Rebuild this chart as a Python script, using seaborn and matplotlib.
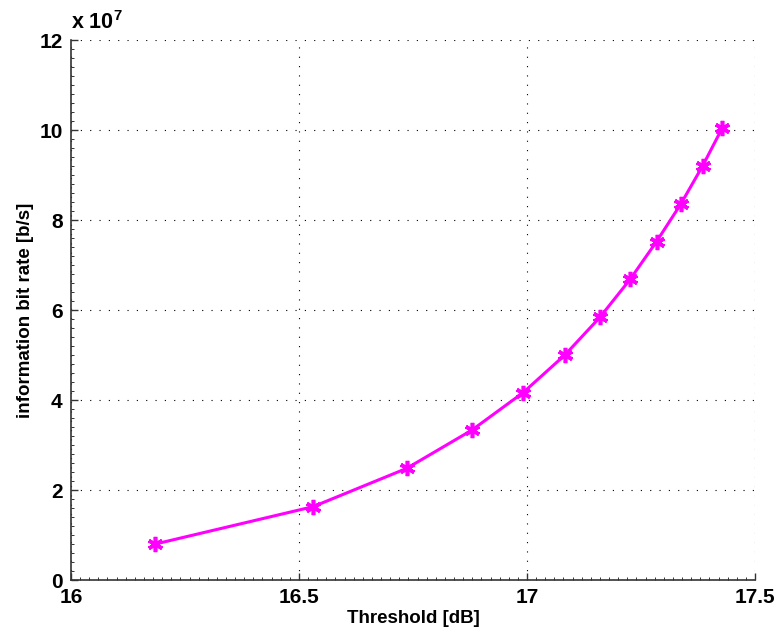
import matplotlib
matplotlib.use('Agg')
import matplotlib.pyplot as plt
from matplotlib.ticker import FuncFormatter, MultipleLocator
import seaborn as sns

# values
threshold_db = [16.185, 16.531, 16.736, 16.879, 16.991, 17.083,
                17.160, 17.226, 17.284, 17.337, 17.385, 17.428]
bit_rate = [0.80e7, 1.63e7, 2.48e7, 3.33e7, 4.16e7, 5.00e7,
            5.84e7, 6.68e7, 7.52e7, 8.35e7, 9.20e7, 10.04e7]

x_ticks = [16, 16.5, 17, 17.5]
y_ticks = [0, 2e7, 4e7, 6e7, 8e7, 10e7, 12e7]

sns.set_style('white')
plt.rcParams['font.family'] = ['Liberation Sans', 'DejaVu Sans']
plt.rcParams['mathtext.fontset'] = 'custom'
plt.rcParams['mathtext.bf'] = 'Liberation Sans:bold'
plt.rcParams['mathtext.rm'] = 'Liberation Sans:bold'
plt.rcParams['text.color'] = 'black'
plt.rcParams['axes.labelcolor'] = 'black'
plt.rcParams['xtick.color'] = 'black'
plt.rcParams['ytick.color'] = 'black'

fig = plt.figure(figsize=(7.79, 6.39), dpi=100)
ax = fig.add_axes([0.0911, 0.0923, 0.8781, 0.8451])

sns.lineplot(x=threshold_db, y=bit_rate, ax=ax, color='#FF00FF',
             linewidth=2.2, marker=(6, 2, 0), markersize=11,
             markeredgewidth=2.6, markeredgecolor='#FF00FF')

ax.set_xlim(16, 17.5)
ax.set_ylim(0, 12e7)
ax.set_xticks(x_ticks)
ax.set_yticks(y_ticks)
ax.xaxis.set_major_formatter(FuncFormatter(lambda v, p: '%g' % v))
ax.yaxis.set_major_formatter(FuncFormatter(lambda v, p: '%g' % (v / 1e7)))
ax.xaxis.set_minor_locator(MultipleLocator(0.02))
ax.yaxis.set_minor_locator(MultipleLocator(0.2e7))

ax.grid(True, which='major', color='black', linestyle=(0, (1, 7.4)), linewidth=0.8)
ax.spines['top'].set_visible(False)
ax.spines['right'].set_visible(False)
for s in ['left', 'bottom']:
    ax.spines[s].set_color('#333333')
    ax.spines[s].set_linewidth(1.2)

ax.tick_params(which='both', direction='in', top=False, right=False,
               left=True, bottom=True, color='#333333', labelcolor='black')
ax.tick_params(which='major', length=5, width=1, labelsize=15, pad=6)
ax.tick_params(which='minor', length=2.5, width=0.7)
for lab in ax.get_xticklabels() + ax.get_yticklabels():
    lab.set_fontweight('bold')

ax.set_xlabel('Threshold [dB]', fontsize=13.5, fontweight='bold', labelpad=2)
ax.set_ylabel('information bit rate [b/s]', fontsize=13.5, fontweight='bold', labelpad=3.5)
ax.text(0.0, 1.012, r'x 10$^{\mathbf{7}}$', transform=ax.transAxes,
        fontsize=15.5, fontweight='bold', ha='left', va='bottom')

plt.savefig('out.png', dpi=100)
